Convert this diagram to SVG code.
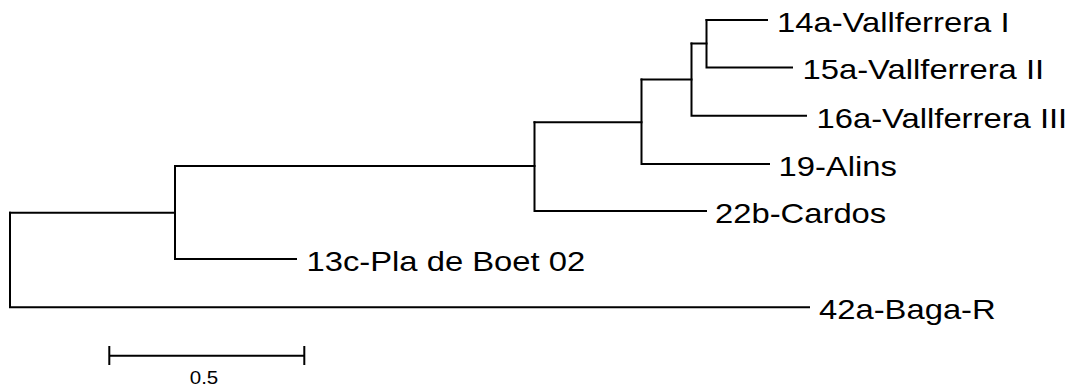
<svg xmlns="http://www.w3.org/2000/svg" width="1072" height="387" viewBox="0 0 1072 387">
  <style>
    .br { fill: none; stroke: #000; stroke-width: 2; stroke-linecap: square; }
    .lbl { font-family: "Liberation Sans", Arial, sans-serif; font-size: 28.5px; fill: #000; }
    .sc { font-family: "Liberation Sans", Arial, sans-serif; font-size: 18px; fill: #000; }
  </style>
  <rect width="1072" height="387" fill="#fff"/>

  <!-- tree branches (rectangular cladogram) -->
  <g id="connectors">
    <!-- root -->
    <path class="br" d="M10,212.7 V307.3 H809"/>
    <path class="br" d="M10,212.7 H175"/>
    <!-- node E: (13c, ingroup) -->
    <path class="br" d="M175,166 V259 H296"/>
    <path class="br" d="M175,166 H534.5"/>
    <!-- node D: (22b, rest) -->
    <path class="br" d="M534.5,122.3 V211 H706"/>
    <path class="br" d="M534.5,122.3 H641.5"/>
    <!-- node C: (19, Vallferrera clade) -->
    <path class="br" d="M641.5,79.5 V164 H769"/>
    <path class="br" d="M641.5,79.5 H691.5"/>
    <!-- node B: (16a, 14a+15a) -->
    <path class="br" d="M691.5,43.5 V115.7 H806"/>
    <path class="br" d="M691.5,43.5 H706.5"/>
    <!-- node A: (14a, 15a) -->
    <path class="br" d="M706.5,20 V67.5 H792"/>
    <path class="br" d="M706.5,20 H767"/>
  </g>

  <!-- leaf labels (slightly widened glyphs) -->
  <g id="n14a"><text class="lbl" transform="translate(777,31.9) scale(1.15,1)">14a-Vallferrera I</text></g>
  <g id="n15a"><text class="lbl" transform="translate(802.5,79.4) scale(1.15,1)">15a-Vallferrera II</text></g>
  <g id="n16a"><text class="lbl" transform="translate(816.5,127.6) scale(1.15,1)">16a-Vallferrera III</text></g>
  <g id="n19"><text class="lbl" transform="translate(778.5,175.9) scale(1.15,1)">19-Alins</text></g>
  <g id="n22b"><text class="lbl" transform="translate(715,222.9) scale(1.15,1)">22b-Cardos</text></g>
  <g id="n13c"><text class="lbl" transform="translate(306.5,270.9) scale(1.15,1)">13c-Pla de Boet 02</text></g>
  <g id="n42a"><text class="lbl" transform="translate(819,319.2) scale(1.15,1)">42a-Baga-R</text></g>

  <!-- scale bar -->
  <g id="scale">
    <path class="br" d="M109.3,355.7 H304.3 M109.3,347 V364 M304.3,347 V364" stroke-linecap="butt"/>
    <text class="sc" transform="translate(204,384) scale(1.14,1)" text-anchor="middle">0.5</text>
  </g>
</svg>
